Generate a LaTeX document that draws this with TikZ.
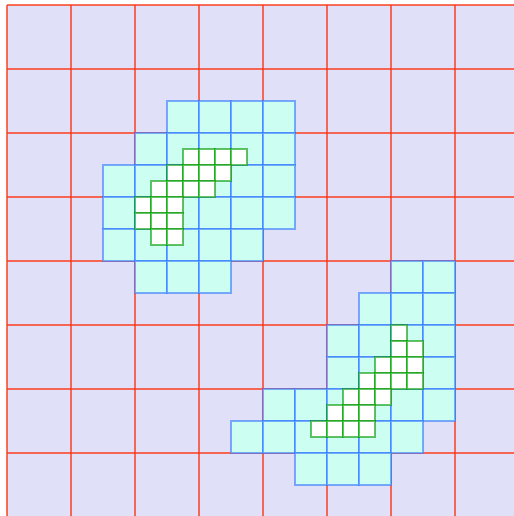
\documentclass[tikz,border=0pt]{standalone}
\usepackage{tikz}
\definecolor{bgfill}{HTML}{E0E0F8}
\definecolor{gridline}{HTML}{FF3311}
\definecolor{cellfill}{HTML}{CCFFF2}
\definecolor{cellline}{HTML}{3377FF}
\definecolor{fineline}{HTML}{009900}
\tikzset{
  backdrop/.style={fill=bgfill, draw=none},
  redgrid/.style={draw=gridline, draw opacity=0.7, line width=1.6pt},
  bluecell/.style={fill=cellfill, draw=cellline, draw opacity=0.6, line width=1.5pt},
  greencell/.style={fill=white, draw=fineline, draw opacity=0.6, line width=1.2pt},
}
\begin{document}
\begin{tikzpicture}[x=0.5cm, y=-0.5cm]
  % ----------------------- BEGIN PICTURE BLOCK ---------------------------
  \useasboundingbox (-0.4375,-0.3125) rectangle (31.6875,31.9375);
  \fill[backdrop] (0,0) rectangle (31.6875,31.9375);

  % --- coarse grid (red) ---
  \foreach \k in {0,4,...,28} {
    \draw[redgrid] (\k,0) -- (\k,31.9375);
    \draw[redgrid] (0,\k) -- (31.6875,\k);
  }

  % --- medium cells (blue), row/first col/last col ---
  \foreach \r/\a/\b in {3/5/8, 4/4/8, 5/3/8, 6/3/8, 7/3/7, 8/4/6,
                        8/12/13, 9/11/13, 10/10/13, 11/10/13, 12/8/13, 13/7/12, 14/9/11}
    \foreach \c in {\a,...,\b}
      \draw[bluecell] (2*\c,2*\r) rectangle ++(2,2);

  % --- fine cells (green), row/first col/last col ---
  \foreach \r/\a/\b in {9/11/14, 10/10/13, 11/9/12, 12/8/10, 13/8/10, 14/9/10,
                        20/24/24, 21/24/25, 22/23/25, 23/22/25, 24/21/23, 25/20/22, 26/19/22}
    \foreach \c in {\a,...,\b}
      \draw[greencell] (\c,\r) rectangle ++(1,1);
  % --------------------- END PICTURE BLOCK -----------------------------
\end{tikzpicture}
\end{document}
